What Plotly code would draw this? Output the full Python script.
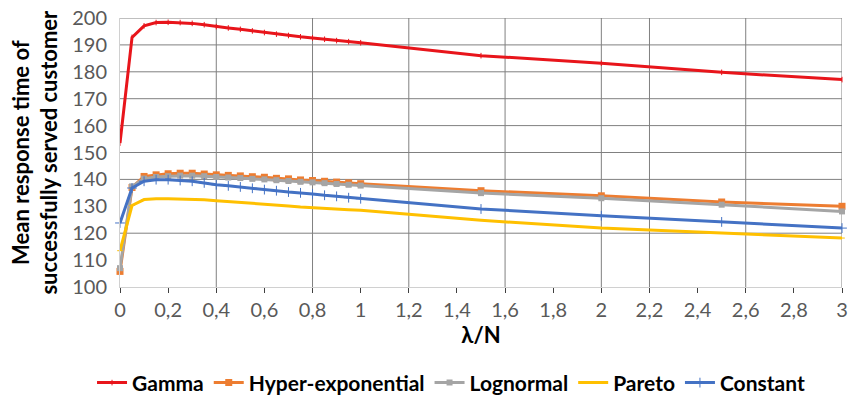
import plotly.graph_objects as go

x = [0, 0.05, 0.1, 0.15, 0.2, 0.25, 0.3, 0.35, 0.4, 0.45, 0.5, 0.55, 0.6, 0.65, 0.7,
     0.75, 0.8, 0.85, 0.9, 0.95, 1.0, 1.5, 2.0, 2.5, 3.0]

gamma = [153.5, 192.8, 197.1, 198.3, 198.4, 198.3, 198.0, 197.5, 196.8, 196.3, 195.8,
         195.2, 194.6, 194.0, 193.5, 193.0, 192.6, 192.1, 191.6, 191.2, 190.8, 186.0,
         183.2, 179.8, 177.1]
hyper = [105.8, 137.0, 141.1, 141.7, 142.1, 142.3, 142.3, 142.0, 141.7, 141.5, 141.3,
         141.0, 140.8, 140.4, 140.2, 139.8, 139.6, 139.3, 139.0, 138.7, 138.4, 135.8,
         133.9, 131.6, 130.0]
lognormal = [107.0, 137.4, 140.3, 140.9, 141.2, 141.4, 141.4, 141.2, 140.9, 140.7, 140.5,
             140.2, 140.0, 139.7, 139.4, 139.1, 138.9, 138.6, 138.3, 138.0, 137.7, 134.9,
             133.0, 130.6, 128.1]
pareto = [113.5, 130.3, 132.5, 132.8, 132.8, 132.7, 132.6, 132.4, 132.1, 131.8, 131.5,
          131.1, 130.8, 130.4, 130.1, 129.7, 129.4, 129.2, 128.9, 128.7, 128.5, 124.8,
          121.9, 120.1, 118.2]
constant = [123.8, 136.8, 139.3, 139.9, 139.9, 139.6, 139.3, 138.7, 138.0, 137.6, 137.2,
            136.7, 136.2, 135.8, 135.3, 135.0, 134.6, 134.1, 133.7, 133.2, 132.8, 129.0,
            126.5, 124.2, 121.9]

x_tickvals = [0, 0.2, 0.4, 0.6, 0.8, 1, 1.2, 1.4, 1.6, 1.8, 2, 2.2, 2.4, 2.6, 2.8, 3]
x_ticktext = ["0", "0,2", "0,4", "0,6", "0,8", "1", "1,2", "1,4", "1,6", "1,8", "2",
              "2,2", "2,4", "2,6", "2,8", "3"]
y_tickvals = [100, 110, 120, 130, 140, 150, 160, 170, 180, 190, 200]
x_grid = [0.4, 0.8, 1.2, 1.6, 2.0, 2.2, 2.6, 3.0]
y_grid = [120, 140, 150, 160, 170, 180, 190, 200]

series = [
    ("Gamma", gamma, "#E8151B", dict(symbol="line-ns", size=4, line=dict(width=1, color="#E8151B"))),
    ("Hyper-exponential", hyper, "#ED7D31", dict(symbol="square", size=7)),
    ("Lognormal", lognormal, "#A5A5A5", dict(symbol="square", size=6)),
    ("Pareto", pareto, "#FFC000", dict(symbol="line-ew", size=4, line=dict(width=1, color="#FFC000"))),
    ("Constant", constant, "#4472C4", dict(symbol="cross-thin", size=7, line=dict(width=1, color="#4472C4"))),
]

fig = go.Figure()
for name, vals, col, mk in series:
    mk = dict(mk)
    mk["color"] = col
    fig.add_trace(go.Scatter(x=x, y=vals, name=name, mode="lines+markers",
                             line=dict(color=col, width=3), marker=mk,
                             cliponaxis=False))

shapes = []
for gx in x_grid:
    shapes.append(dict(type="line", xref="x", yref="y", x0=gx, x1=gx, y0=100, y1=200,
                       line=dict(color="#808080", width=1), layer="below"))
for gy in y_grid:
    shapes.append(dict(type="line", xref="x", yref="y", x0=0, x1=3, y0=gy, y1=gy,
                       line=dict(color="#808080", width=1), layer="below"))

fig.update_layout(
    width=851, height=401,
    margin=dict(l=120, r=9, t=18, b=114, autoexpand=False),
    paper_bgcolor="white", plot_bgcolor="white",
    font=dict(family="Lato", color="#595959"),
    shapes=shapes,
    showlegend=True,
    legend=dict(orientation="h", x=0.53, xanchor="center", xref="container",
                y=0.045, yanchor="middle", yref="container",
                font=dict(size=21, color="black", family="Lato", weight="bold"),
                itemwidth=30, tracegroupgap=0, traceorder="normal"),
    xaxis=dict(range=[0, 3], tickvals=x_tickvals, ticktext=x_ticktext,
               showgrid=False, zeroline=False, showline=True, linecolor="#d0d0d0",
               ticks="outside", ticklen=5, tickcolor="#404040", automargin=False,
               tickfont=dict(size=20, color="#595959"),
               title=dict(text="λ/N", font=dict(size=22, color="black", weight="bold"),
                          standoff=6)),
    yaxis=dict(range=[100, 200], tickvals=y_tickvals, showgrid=False, zeroline=False,
               showline=True, linecolor="#d0d0d0", ticks="", ticklabelstandoff=8,
               automargin=False,
               tickfont=dict(size=20, color="#595959")),
    annotations=[dict(text="Mean response time of<br>successfully served customer",
                      xref="paper", yref="paper", x=-0.119, y=0.5,
                      xanchor="center", yanchor="middle", textangle=-90,
                      showarrow=False,
                      font=dict(size=22, color="black", family="Lato", weight="bold"))],
)

fig.write_html("out.html")
